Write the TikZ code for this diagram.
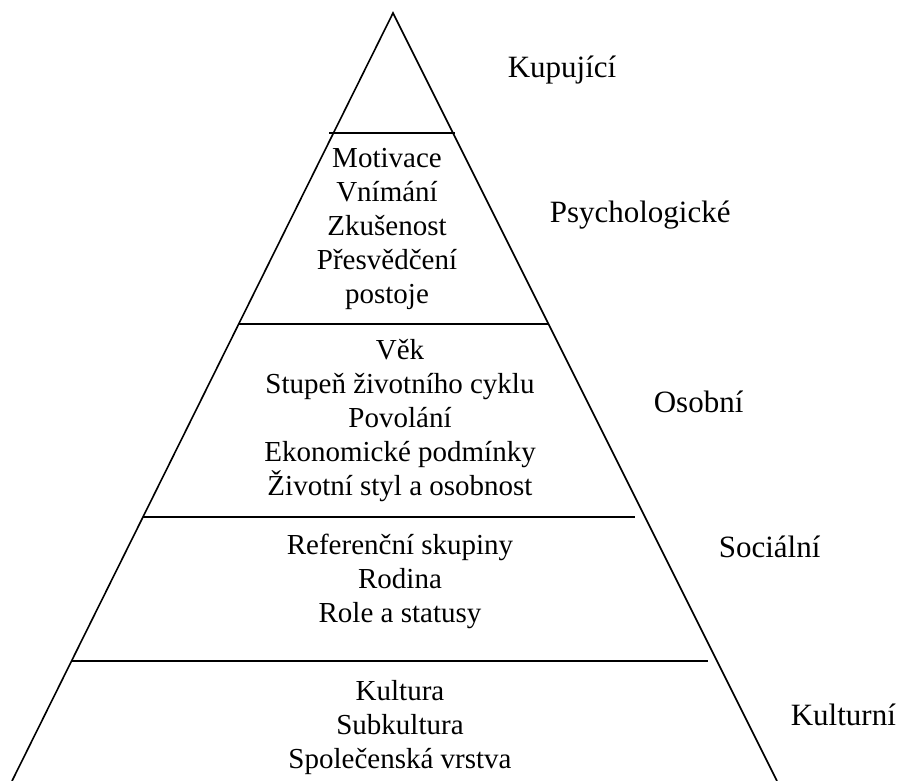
\documentclass[tikz,border=0pt]{standalone}
\usepackage{fontspec}
\setmainfont{Liberation Serif}
\begin{document}
\begin{tikzpicture}[x=1pt,y=-1pt,line width=1.6pt,
  lbl/.style={font=\fontsize{31}{34}\selectfont,inner sep=0pt,anchor=base west},
  blk/.style={font=\fontsize{29}{34}\selectfont,inner sep=0pt,align=center,anchor=base}]
\useasboundingbox (0,0) rectangle (899,780);
\coordinate (apex) at (393,13);
\coordinate (bl) at (12,781);
\coordinate (br) at (777,781);
\draw (bl) -- (apex) -- (br);
\coordinate (l1a) at (329,133);
\coordinate (l1b) at (455,133);
\coordinate (l2a) at (239,324);
\coordinate (l2b) at (548,324);
\coordinate (l3a) at (143,517);
\coordinate (l3b) at (635,517);
\coordinate (l4a) at (71,661);
\coordinate (l4b) at (708,661);
\draw (l1a) -- (l1b);
\draw (l2a) -- (l2b);
\draw (l3a) -- (l3b);
\draw (l4a) -- (l4b);
\node[blk] (psych) at (387,303) {Motivace\\Vnímání\\Zkušenost\\Přesvědčení\\postoje};
\node[blk] (pers) at (400,495) {Věk\\Stupeň životního cyklu\\Povolání\\Ekonomické podmínky\\Životní styl a osobnost};
\node[blk] (soc) at (400,622) {Referenční skupiny\\Rodina\\Role a statusy};
\node[blk] (cult) at (400,768) {Kultura\\Subkultura\\Společenská vrstva};
\node[lbl] (kup) at (507,77) {Kupující};
\node[lbl] (psl) at (549,222) {Psychologické};
\node[lbl] (osl) at (653,412) {Osobní};
\node[lbl] (sol) at (718,557) {Sociální};
\node[lbl] (kul) at (790,725) {Kulturní};
\end{tikzpicture}
\end{document}
